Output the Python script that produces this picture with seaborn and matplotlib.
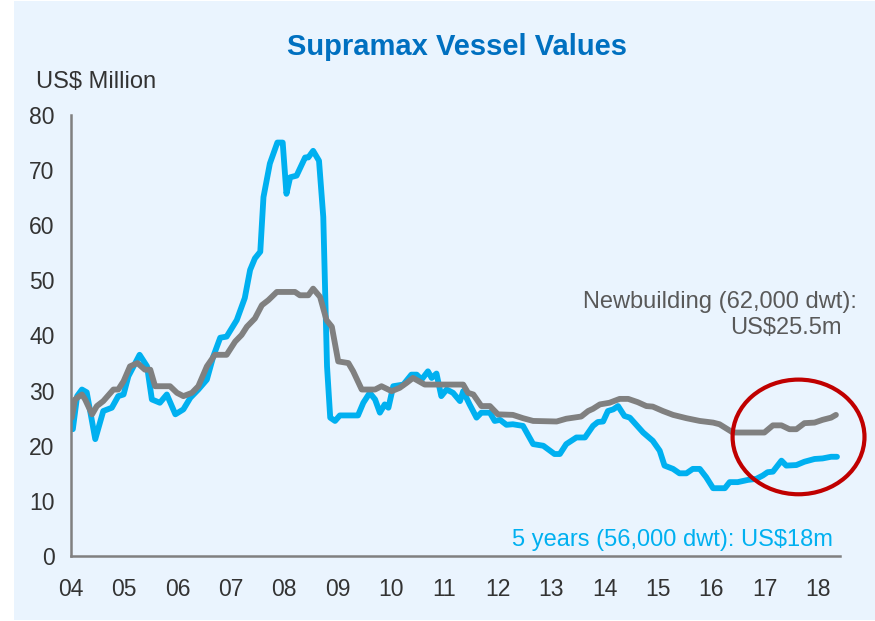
#!/usr/bin/env python3
"""Supramax vessel values: 5 year old vs newbuilding prices."""
import matplotlib
matplotlib.use("Agg")
import matplotlib.pyplot as plt
from matplotlib.patches import Ellipse, Rectangle
import pandas as pd
import seaborn as sns

# 5 year old Supramax (56,000 dwt), US$ million
secondhand_years = [
    2004.04, 2004.12, 2004.21, 2004.30, 2004.46, 2004.61, 2004.77, 2004.89, 2004.99,
    2005.08, 2005.29, 2005.43, 2005.52, 2005.67, 2005.80, 2005.96, 2006.11, 2006.24,
    2006.39, 2006.55, 2006.67, 2006.80, 2006.92, 2007.11, 2007.26, 2007.36, 2007.45,
    2007.55, 2007.61, 2007.73, 2007.87, 2007.97, 2008.04, 2008.11, 2008.23, 2008.39,
    2008.45, 2008.54, 2008.65, 2008.73, 2008.80, 2008.86, 2008.95, 2009.04, 2009.38,
    2009.48, 2009.60, 2009.70, 2009.79, 2009.88, 2009.95, 2010.04, 2010.23, 2010.38,
    2010.48, 2010.57, 2010.69, 2010.76, 2010.85, 2010.94, 2011.04, 2011.16, 2011.29,
    2011.35, 2011.47, 2011.60, 2011.69, 2011.85, 2011.94, 2012.04, 2012.16, 2012.28,
    2012.47, 2012.66, 2012.85, 2013.06, 2013.16, 2013.28, 2013.47, 2013.63, 2013.78,
    2013.87, 2013.97, 2014.06, 2014.16, 2014.25, 2014.37, 2014.47, 2014.72, 2014.90,
    2015.03, 2015.12, 2015.28, 2015.40, 2015.53, 2015.65, 2015.78, 2015.90, 2016.03,
    2016.25, 2016.34, 2016.49, 2016.68, 2016.84, 2016.96, 2017.05, 2017.15, 2017.31,
    2017.40, 2017.59, 2017.74, 2017.93, 2018.08, 2018.24, 2018.35,
]
secondhand_values = [
    23.0, 29.0, 30.2, 29.7, 21.2, 26.3, 26.9, 29.0, 29.3,
    32.6, 36.5, 34.4, 28.4, 27.8, 29.3, 25.7, 26.6, 28.7,
    30.2, 32.0, 36.2, 39.6, 39.8, 42.8, 46.8, 51.9, 54.0,
    55.2, 65.1, 71.2, 75.0, 75.0, 65.7, 68.7, 69.0, 72.3,
    72.3, 73.5, 71.7, 61.5, 34.4, 25.1, 24.5, 25.5, 25.5,
    27.8, 29.6, 28.4, 26.0, 27.5, 26.9, 30.8, 31.1, 32.9,
    32.9, 32.0, 33.5, 32.3, 33.1, 29.0, 30.2, 29.6, 28.1,
    29.9, 27.5, 25.1, 26.0, 26.0, 24.5, 24.7, 23.8, 23.9,
    23.6, 20.3, 20.0, 18.5, 18.5, 20.3, 21.5, 21.5, 23.6,
    24.3, 24.4, 26.3, 26.6, 27.2, 25.4, 25.1, 22.4, 20.9,
    19.1, 16.4, 15.8, 15.0, 15.0, 15.8, 15.8, 14.3, 12.3,
    12.3, 13.4, 13.4, 13.8, 14.0, 14.6, 15.2, 15.3, 17.3,
    16.4, 16.5, 17.1, 17.6, 17.7, 18.0, 18.0,
]

# Newbuilding Supramax (62,000 dwt), US$ million
newbuild_years = [
    2004.02, 2004.08, 2004.21, 2004.27, 2004.40, 2004.49, 2004.61, 2004.80, 2004.89,
    2004.99, 2005.11, 2005.25, 2005.39, 2005.49, 2005.58, 2005.86, 2005.99, 2006.11,
    2006.27, 2006.39, 2006.55, 2006.70, 2006.92, 2007.08, 2007.20, 2007.30, 2007.45,
    2007.58, 2007.70, 2007.86, 2008.20, 2008.29, 2008.45, 2008.54, 2008.67, 2008.79,
    2008.89, 2009.01, 2009.20, 2009.29, 2009.45, 2009.70, 2009.82, 2010.01, 2010.16,
    2010.29, 2010.41, 2010.63, 2011.35, 2011.44, 2011.54, 2011.69, 2011.85, 2012.00,
    2012.28, 2012.47, 2012.66, 2013.10, 2013.28, 2013.56, 2013.69, 2013.78, 2013.91,
    2014.09, 2014.28, 2014.44, 2014.62, 2014.78, 2014.90, 2015.09, 2015.28, 2015.53,
    2015.78, 2016.03, 2016.15, 2016.40, 2016.99, 2017.15, 2017.31, 2017.46, 2017.59,
    2017.74, 2017.93, 2018.08, 2018.24, 2018.33,
]
newbuild_values = [
    25.1, 28.4, 29.3, 28.4, 25.7, 27.2, 28.1, 30.2, 30.2,
    31.7, 34.4, 35.0, 33.8, 33.8, 30.8, 30.8, 29.6, 29.0,
    29.6, 30.8, 34.4, 36.5, 36.5, 38.9, 40.1, 41.6, 43.1,
    45.5, 46.4, 47.9, 47.9, 47.3, 47.3, 48.5, 47.0, 42.8,
    41.6, 35.3, 35.0, 33.5, 30.2, 30.2, 30.8, 29.9, 30.5,
    31.4, 32.3, 31.1, 31.1, 29.6, 29.3, 27.2, 27.2, 25.7,
    25.6, 25.0, 24.5, 24.4, 24.9, 25.3, 26.3, 26.7, 27.5,
    27.8, 28.5, 28.5, 27.9, 27.2, 27.1, 26.3, 25.6, 25.0,
    24.5, 24.2, 23.9, 22.4, 22.4, 23.7, 23.7, 23.0, 23.0,
    24.1, 24.2, 24.7, 25.1, 25.6,
]

series_names = ["5 years (56,000 dwt)", "Newbuilding (62,000 dwt)"]
series_colors = ["#00B0F0", "#808080"]
x_tick_years = list(range(2004, 2019))
x_tick_labels = [f"{y % 100:02d}" for y in x_tick_years]
y_ticks = list(range(0, 90, 10))

BG = "#EAF4FE"
TEXT = "#333333"

df = pd.concat([
    pd.DataFrame({"year": secondhand_years, "value": secondhand_values,
                  "series": series_names[0]}),
    pd.DataFrame({"year": newbuild_years, "value": newbuild_values,
                  "series": series_names[1]}),
], ignore_index=True)

sns.set_style("white")
plt.rcParams["font.family"] = ["Liberation Sans", "DejaVu Sans"]

W, H = 875, 621
fig = plt.figure(figsize=(W / 100, H / 100), dpi=100, facecolor="white")
# light blue panel, leaving the thin white strip on the left
fig.patches.append(Rectangle((14 / W, 1 / H), 1 - 14 / W, 1 - 2 / H,
                             transform=fig.transFigure, facecolor=BG,
                             edgecolor="none", zorder=-10))

ax = fig.add_axes([70.7 / W, 1 - 556 / H, (840 - 70.7) / W, (556 - 115) / H])
ax.set_facecolor("none")
ax.set_zorder(1)

sns.lineplot(data=df, x="year", y="value", hue="series", hue_order=series_names,
             palette=series_colors, estimator=None, sort=False,
             linewidth=4.2, legend=False, ax=ax,
             solid_joinstyle="round", solid_capstyle="round")

ax.set_xlim(2004, 2004 + (840 - 70.7) / 53.4)
ax.set_ylim(0, 80)
ax.set_xticks(x_tick_years)
ax.set_xticklabels(x_tick_labels)
ax.set_yticks(y_ticks)
ax.set_xlabel("")
ax.set_ylabel("")

for side in ["top", "right"]:
    ax.spines[side].set_visible(False)
for side in ["left", "bottom"]:
    ax.spines[side].set_color("#808080")
    ax.spines[side].set_linewidth(1.8)
ax.tick_params(axis="both", colors="#808080", width=1.6, length=4.5,
               labelsize=16.5, labelcolor=TEXT, direction="out")
ax.tick_params(axis="x", pad=11)
ax.tick_params(axis="y", pad=7)

# red ring around the recent rise
ax.add_patch(Ellipse((2017.63, 21.6), 2.47, 20.8, fill=False,
                     edgecolor="#C00000", linewidth=3, zorder=5, clip_on=False))

fig.text(457 / W, 1 - 47 / H, "Supramax Vessel Values", ha="center", va="center",
         fontsize=21, fontweight="bold", color="#0070C0")
fig.text(36 / W, 1 - 82 / H, "US$ Million", ha="left", va="center",
         fontsize=17, color=TEXT)
fig.text(857 / W, 1 - 302 / H, "Newbuilding (62,000 dwt):", ha="right",
         va="center", fontsize=17, color="#595959")
fig.text(842 / W, 1 - 328 / H, "US$25.5m", ha="right", va="center",
         fontsize=17, color="#595959")
fig.text(833 / W, 1 - 540 / H, "5 years (56,000 dwt): US$18m", ha="right",
         va="center", fontsize=17, color="#00B0F0")

fig.savefig("out.png", dpi=100, facecolor=fig.get_facecolor())
